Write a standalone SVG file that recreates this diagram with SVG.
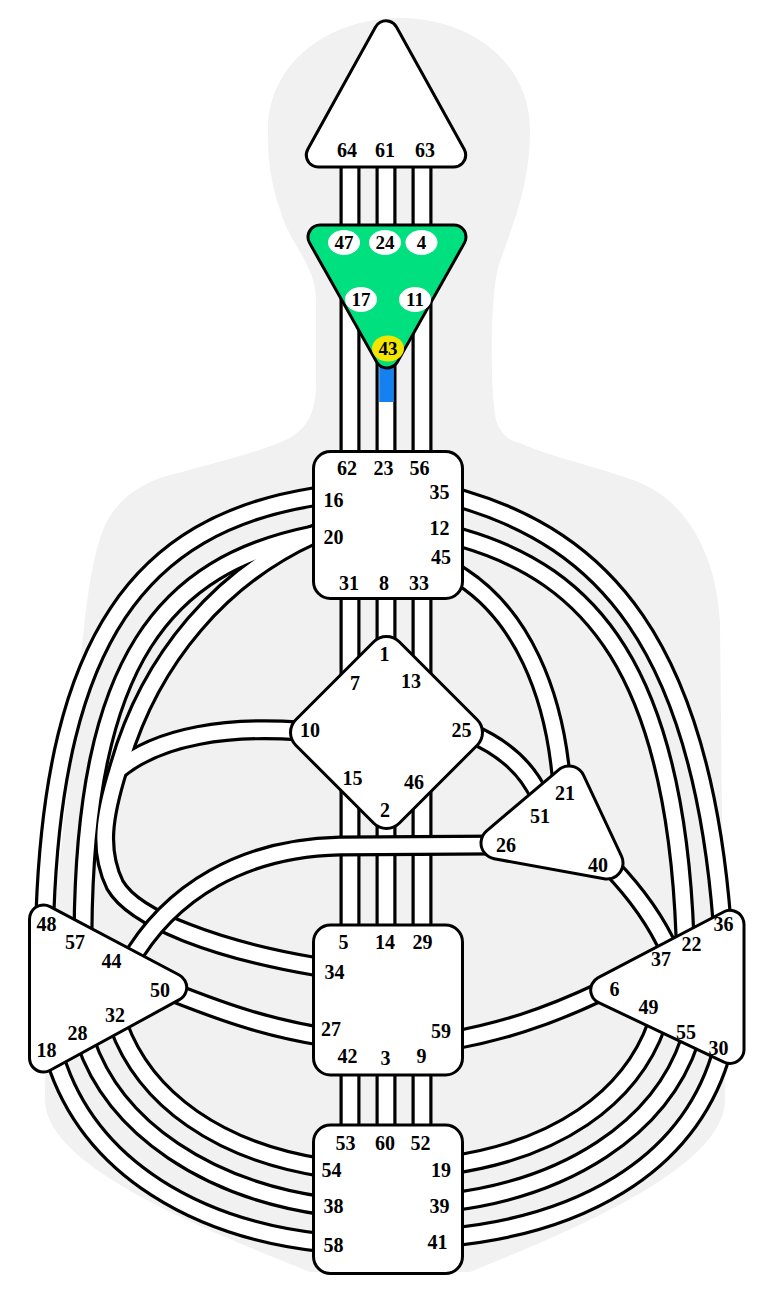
<svg xmlns="http://www.w3.org/2000/svg" xmlns:xlink="http://www.w3.org/1999/xlink" width="772" height="1295" viewBox="0 0 772 1295">
<style>
.cb{fill:none;stroke:#000;stroke-width:21}
.cw{fill:none;stroke:#fff;stroke-width:14.6}
.box{fill:#fff;stroke:#000;stroke-width:3}
.t{font-family:"Liberation Serif","Times New Roman",serif;font-weight:bold;font-size:20px;text-anchor:middle;fill:#000}
.ta{font-family:"Liberation Serif","Times New Roman",serif;font-weight:bold;font-size:19px;text-anchor:middle;fill:#000}
.gc{fill:#fff}
</style>
<defs>
<path id="v1" d="M350,140 V250"/>
<path id="v2" d="M386,140 V250"/>
<path id="v3" d="M422,140 V250"/>
<path id="v4" d="M350,260 V470"/>
<path id="v5" d="M386,330 V470"/>
<path id="v6" d="M422,260 V470"/>
<path id="v7" d="M350,580 V705"/>
<path id="v8" d="M386,580 V670"/>
<path id="v9" d="M422,580 V705"/>
<path id="v10" d="M350,765 V945"/>
<path id="v11" d="M386,800 V945"/>
<path id="v12" d="M422,765 V945"/>
<path id="v13" d="M350,1060 V1140"/>
<path id="v14" d="M386,1060 V1140"/>
<path id="v15" d="M422,1060 V1140"/>
<path id="p16_48" d="M330,494 L313,497 C140,525 55,640 45,912"/>
<path id="p20_57" d="M330,532 L313,535 C165,565 85,660 83,932"/>
<path id="p20_34" d="M330,528 L313,535 C225,575 150,655 118,770 C104,815 98,850 115,885 C135,920 220,950 313,966 L330,969"/>
<path id="p10_20" d="M300,731 C230,726 160,735 118,770"/>
<path id="p35_36" d="M445,494 L462,499 C600,540 700,640 722,922"/>
<path id="p12_22" d="M445,533 L462,538 C590,575 675,670 685,937"/>
<path id="p45_21" d="M450,569 L462,577 C520,615 555,690 562,787"/>
<path id="p25_51" d="M470,733 C505,748 528,770 540,797"/>
<path id="p40_37" d="M610,866 C635,892 655,918 670,952"/>
<path id="p6_59" d="M600,992 C545,1018 500,1032 450,1041"/>
<path id="p50_27" d="M172,992 C230,1015 270,1028 325,1037"/>
<path id="p44_26" d="M128,965 C170,890 245,848 340,846 L497,845"/>
<path id="p54_32" d="M325,1168 C220,1152 145,1100 118,1024"/>
<path id="p38_28" d="M325,1206 C210,1190 115,1130 85,1040"/>
<path id="p58_18" d="M325,1243 C200,1230 90,1170 55,1058"/>
<path id="p19_49" d="M450,1165 C555,1150 630,1100 657,1024"/>
<path id="p39_55" d="M450,1202 C565,1188 660,1130 690,1040"/>
<path id="p41_30" d="M450,1237 C575,1225 685,1170 720,1058"/>
</defs>
<rect width="772" height="1295" fill="#fff"/>
<path id="body" fill="#f1f1f1" d="M400,18 C470,18 530,62 530,130 C530,190 510,230 498,268 C490,300 490,390 496,420 C502,436 510,441 520,443 C545,455 600,468 633,480 C690,500 717,560 720,623 L725,1100 C725,1170 560,1235 470,1272 L310,1272 C220,1235 45,1170 45,1100 C45,950 70,780 78,690 C84,620 90,560 105,525 C120,495 145,482 170,475 C220,462 265,450 290,438 C310,425 316,410 316,380 L316,300 C316,265 290,245 280,210 C270,180 268,160 268,130 C268,62 330,18 400,18 Z"/>
<g id="connectors">
<use xlink:href="#v1" class="cb"/><use xlink:href="#v1" class="cw"/>
<use xlink:href="#v2" class="cb"/><use xlink:href="#v2" class="cw"/>
<use xlink:href="#v3" class="cb"/><use xlink:href="#v3" class="cw"/>
<use xlink:href="#v4" class="cb"/><use xlink:href="#v4" class="cw"/>
<use xlink:href="#v5" class="cb"/><use xlink:href="#v5" class="cw"/>
<use xlink:href="#v6" class="cb"/><use xlink:href="#v6" class="cw"/>
<use xlink:href="#v7" class="cb"/><use xlink:href="#v7" class="cw"/>
<use xlink:href="#v8" class="cb"/><use xlink:href="#v8" class="cw"/>
<use xlink:href="#v9" class="cb"/><use xlink:href="#v9" class="cw"/>
<use xlink:href="#v10" class="cb"/><use xlink:href="#v10" class="cw"/>
<use xlink:href="#v11" class="cb"/><use xlink:href="#v11" class="cw"/>
<use xlink:href="#v12" class="cb"/><use xlink:href="#v12" class="cw"/>
<use xlink:href="#v13" class="cb"/><use xlink:href="#v13" class="cw"/>
<use xlink:href="#v14" class="cb"/><use xlink:href="#v14" class="cw"/>
<use xlink:href="#v15" class="cb"/><use xlink:href="#v15" class="cw"/>
<rect x="379.2" y="340" width="14.6" height="62" fill="#1580f0"/>
<use xlink:href="#p16_48" class="cb"/><use xlink:href="#p16_48" class="cw"/>
<use xlink:href="#p20_57" class="cb"/><use xlink:href="#p20_34" class="cb"/><use xlink:href="#p10_20" class="cb"/>
<use xlink:href="#p20_57" class="cw"/><use xlink:href="#p20_34" class="cw"/><use xlink:href="#p10_20" class="cw"/>
<use xlink:href="#p35_36" class="cb"/><use xlink:href="#p35_36" class="cw"/>
<use xlink:href="#p12_22" class="cb"/><use xlink:href="#p12_22" class="cw"/>
<use xlink:href="#p45_21" class="cb"/><use xlink:href="#p45_21" class="cw"/>
<use xlink:href="#p25_51" class="cb"/><use xlink:href="#p25_51" class="cw"/>
<use xlink:href="#p40_37" class="cb"/><use xlink:href="#p40_37" class="cw"/>
<use xlink:href="#p6_59" class="cb"/><use xlink:href="#p6_59" class="cw"/>
<use xlink:href="#p50_27" class="cb"/><use xlink:href="#p50_27" class="cw"/>
<use xlink:href="#p44_26" class="cb"/><use xlink:href="#p44_26" class="cw"/>
<use xlink:href="#p54_32" class="cb"/><use xlink:href="#p54_32" class="cw"/>
<use xlink:href="#p38_28" class="cb"/><use xlink:href="#p38_28" class="cw"/>
<use xlink:href="#p58_18" class="cb"/><use xlink:href="#p58_18" class="cw"/>
<use xlink:href="#p19_49" class="cb"/><use xlink:href="#p19_49" class="cw"/>
<use xlink:href="#p39_55" class="cb"/><use xlink:href="#p39_55" class="cw"/>
<use xlink:href="#p41_30" class="cb"/><use xlink:href="#p41_30" class="cw"/>
</g>
<g id="head">
<polygon points="386,32.8 318.3,155 453.7,155" fill="#000" stroke="#000" stroke-width="27" stroke-linejoin="round"/>
<polygon points="386,32.8 318.3,155 453.7,155" fill="#fff" stroke="#fff" stroke-width="21" stroke-linejoin="round"/>
<text class="t" x="347" y="157">64</text><text class="t" x="385" y="157">61</text><text class="t" x="425" y="157">63</text>
</g>
<g id="ajna">
<polygon points="320,237 454,237 387,356" fill="#000" stroke="#000" stroke-width="27" stroke-linejoin="round"/>
<polygon points="320,237 454,237 387,356" fill="#00e07f" stroke="#00e07f" stroke-width="21" stroke-linejoin="round"/>
<ellipse class="gc" cx="344" cy="242.5" rx="16" ry="12.5"/>
<ellipse class="gc" cx="385" cy="242.5" rx="16" ry="12.5"/>
<ellipse class="gc" cx="421.5" cy="242.5" rx="16" ry="12.5"/>
<ellipse class="gc" cx="361" cy="299.5" rx="16" ry="12.5"/>
<ellipse class="gc" cx="415" cy="299.5" rx="16" ry="12.5"/>
<ellipse cx="388" cy="348.5" rx="16" ry="13" fill="#f2e600"/>
<text class="ta" x="344" y="249">47</text><text class="ta" x="385" y="249">24</text><text class="ta" x="421.5" y="249">4</text>
<text class="ta" x="361" y="306">17</text><text class="ta" x="415" y="306">11</text><text class="ta" x="388" y="355">43</text>
</g>
<g id="throat">
<rect class="box" x="313.5" y="451.5" width="149" height="147" rx="17"/>
<text class="t" x="347" y="475">62</text><text class="t" x="383.5" y="475">23</text><text class="t" x="419.5" y="475">56</text>
<text class="t" x="333.5" y="506.5">16</text><text class="t" x="439.5" y="499">35</text>
<text class="t" x="333.5" y="544">20</text><text class="t" x="439.5" y="535">12</text><text class="t" x="441" y="564">45</text>
<text class="t" x="349" y="590">31</text><text class="t" x="384" y="590">8</text><text class="t" x="419" y="590">33</text>
</g>
<g id="g-center">
<polygon points="386.5,654.5 464.5,732.5 386.5,810.5 308.5,732.5" fill="#000" stroke="#000" stroke-width="39" stroke-linejoin="round"/>
<polygon points="386.5,654.5 464.5,732.5 386.5,810.5 308.5,732.5" fill="#fff" stroke="#fff" stroke-width="33" stroke-linejoin="round"/>
<text class="t" x="384.5" y="661">1</text><text class="t" x="355" y="690">7</text><text class="t" x="411" y="687.5">13</text>
<text class="t" x="310" y="737">10</text><text class="t" x="461.5" y="737">25</text>
<text class="t" x="352.5" y="785">15</text><text class="t" x="414" y="789">46</text><text class="t" x="385" y="816.5">2</text>
</g>
<g id="heart">
<polygon points="569,782 497,843 607,863" fill="#000" stroke="#000" stroke-width="35" stroke-linejoin="round"/>
<polygon points="569,782 497,843 607,863" fill="#fff" stroke="#fff" stroke-width="29" stroke-linejoin="round"/>
<text class="t" x="565" y="800">21</text><text class="t" x="540" y="823">51</text><text class="t" x="506" y="851.5">26</text><text class="t" x="598" y="871.5">40</text>
</g>
<g id="spleen">
<polygon points="43.5,919 43.5,1058 172.7,987.4" fill="#000" stroke="#000" stroke-width="31" stroke-linejoin="round"/>
<polygon points="43.5,919 43.5,1058 172.7,987.4" fill="#fff" stroke="#fff" stroke-width="25" stroke-linejoin="round"/>
<text class="t" x="46.5" y="931">48</text><text class="t" x="75" y="949">57</text><text class="t" x="111.5" y="968">44</text>
<text class="t" x="160" y="997">50</text><text class="t" x="115" y="1022">32</text><text class="t" x="77.5" y="1040">28</text><text class="t" x="46.5" y="1056.5">18</text>
</g>
<g id="solar-plexus">
<polygon points="604.7,990 730,924.4 730,1049.4" fill="#000" stroke="#000" stroke-width="31" stroke-linejoin="round"/>
<polygon points="604.7,990 730,924.4 730,1049.4" fill="#fff" stroke="#fff" stroke-width="25" stroke-linejoin="round"/>
<text class="t" x="723.5" y="930.5">36</text><text class="t" x="691.5" y="950.5">22</text><text class="t" x="661" y="966">37</text>
<text class="t" x="614.5" y="995.5">6</text><text class="t" x="648.5" y="1014">49</text><text class="t" x="686" y="1039">55</text><text class="t" x="718.5" y="1055">30</text>
</g>
<g id="sacral">
<rect class="box" x="313.5" y="925" width="149" height="150" rx="17"/>
<text class="t" x="343.5" y="949">5</text><text class="t" x="385" y="949">14</text><text class="t" x="422.5" y="949">29</text>
<text class="t" x="334.5" y="979">34</text><text class="t" x="331" y="1036">27</text><text class="t" x="441" y="1038">59</text>
<text class="t" x="347.5" y="1063">42</text><text class="t" x="385.5" y="1065">3</text><text class="t" x="421.5" y="1062.5">9</text>
</g>
<g id="root">
<rect class="box" x="313.5" y="1125" width="149" height="148.5" rx="17"/>
<text class="t" x="345.5" y="1150">53</text><text class="t" x="385" y="1150">60</text><text class="t" x="420.5" y="1150">52</text>
<text class="t" x="331.5" y="1177">54</text><text class="t" x="441" y="1176.5">19</text>
<text class="t" x="333.5" y="1213">38</text><text class="t" x="439.5" y="1213">39</text>
<text class="t" x="333.5" y="1251.5">58</text><text class="t" x="437.5" y="1249">41</text>
</g>
</svg>
